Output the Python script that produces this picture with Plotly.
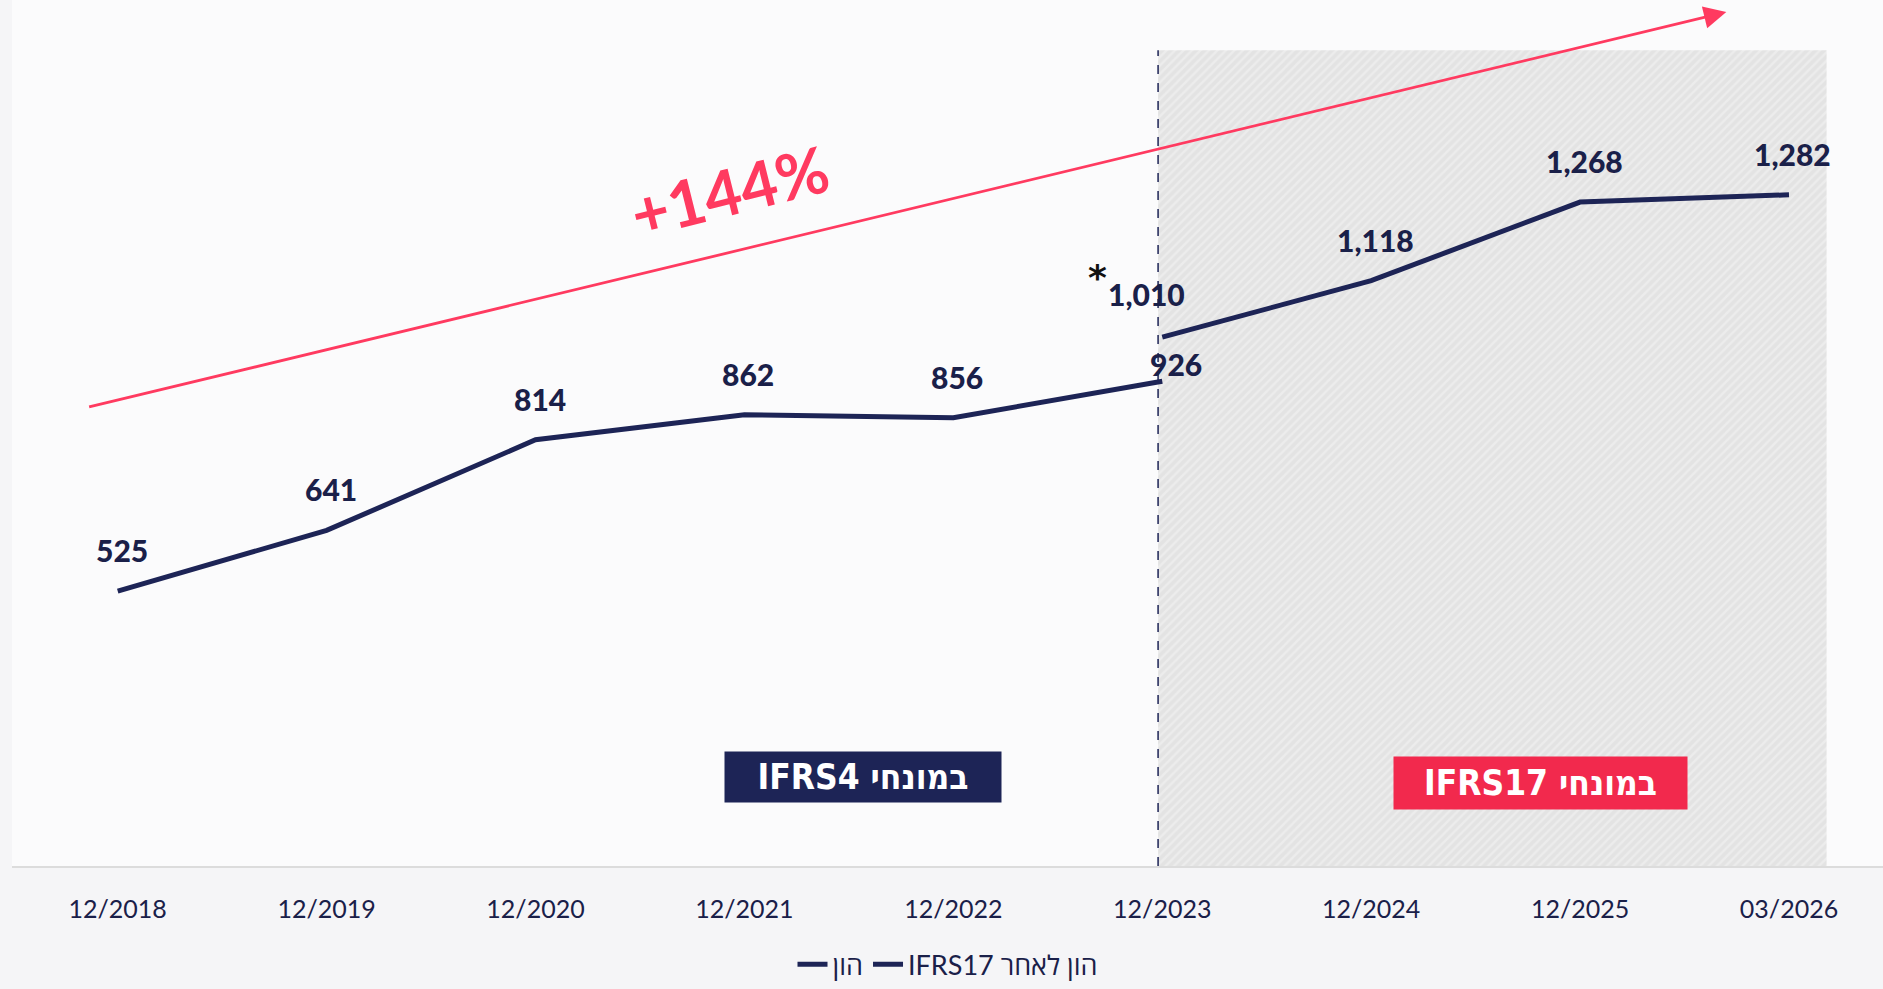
# equity chart - IFRS4 vs IFRS17
# plotly line chart with a hatched IFRS17 zone

import plotly.graph_objects as go

CATEGORIES = ["12/2018", "12/2019", "12/2020", "12/2021", "12/2022",
              "12/2023", "12/2024", "12/2025", "03/2026"]

# equity under IFRS4 (12/2018 .. 12/2023)
EQUITY_IFRS4 = [525, 641, 814, 862, 856, 926]
# equity after IFRS17 (12/2023 .. 03/2026)
EQUITY_IFRS17 = [1010, 1118, 1268, 1282]

GROWTH_LABEL = "+144%"

NAVY = "#1d2456"
TEXT_NAVY = "#1a2049"
RED = "#ff3a60"
BOX_RED = "#f2294d"

idx_all = list(range(len(CATEGORIES)))
x_ifrs4 = idx_all[:len(EQUITY_IFRS4)]
x_ifrs17 = idx_all[len(EQUITY_IFRS4) - 1:]

switch_x = CATEGORIES.index("12/2023") - 0.02
shade_end = len(CATEGORIES) - 1 + 0.18
shade_top = 1558
y_top = 1654

fig = go.Figure()

# hatched IFRS17 background zone
fig.add_trace(go.Scatter(
    x=[switch_x, shade_end, shade_end, switch_x, switch_x],
    y=[0, 0, shade_top, shade_top, 0],
    mode="none",
    fill="toself",
    fillcolor="#e6e6e6",
    fillpattern=dict(shape="/", bgcolor="#e3e3e3", fgcolor="#f5f5f5",
                     size=6, solidity=0.4),
    showlegend=False,
    hoverinfo="skip",
))

fig.add_trace(go.Scatter(
    x=x_ifrs4, y=EQUITY_IFRS4,
    mode="lines",
    name="הון",
    line=dict(color=NAVY, width=5),
))

fig.add_trace(go.Scatter(
    x=x_ifrs17, y=EQUITY_IFRS17,
    mode="lines",
    name="IFRS17 הון לאחר",
    line=dict(color=NAVY, width=5),
))

label_font = dict(family="Lato, 'Open Sans', sans-serif", size=30,
                  color=TEXT_NAVY, weight=900)

annotations = []
for i, (x, v) in enumerate(zip(x_ifrs4, EQUITY_IFRS4)):
    last = i == len(EQUITY_IFRS4) - 1
    annotations.append(dict(
        x=x, y=v, text=f"{v:,}", showarrow=False, font=label_font,
        xshift=14 if last else 4, yshift=17 if last else 41,
    ))
for i, (x, v) in enumerate(zip(x_ifrs17, EQUITY_IFRS17)):
    first = i == 0
    annotations.append(dict(
        x=x, y=v, text=f"{v:,}", showarrow=False, font=label_font,
        xshift=-16 if first else 4, yshift=43 if first else 41,
    ))

# asterisk next to the restated value
annotations.append(dict(
    x=x_ifrs17[0], y=EQUITY_IFRS17[0], text="*", showarrow=False,
    xshift=-65, yshift=60,
    font=dict(family="'DejaVu Sans', sans-serif", size=36, color="#111111", weight="bold"),
))

# growth arrow
annotations.append(dict(
    x=7.70, y=1631, ax=-0.144, ay=876,
    xref="x", yref="y", axref="x", ayref="y",
    text="", showarrow=True,
    arrowhead=2, arrowsize=1.6, arrowwidth=2.8, arrowcolor=RED,
))
annotations.append(dict(
    x=2.93, y=1290, text=f"<b>{GROWTH_LABEL}</b>", showarrow=False,
    textangle=-14,
    font=dict(family="Lato, sans-serif", size=64, color=RED, weight=900),
))

# regime boxes
box_font = dict(family="'DejaVu Sans Condensed', 'Liberation Sans', sans-serif",
                size=35, color="white", weight="bold")
annotations.append(dict(
    x=3.566, y=170, text="IFRS4 במונחי", showarrow=False,
    bgcolor=NAVY, width=276, height=50, borderpad=0,
    align="center", valign="middle", font=box_font,
))
annotations.append(dict(
    x=6.81, y=159, text="IFRS17 במונחי", showarrow=False,
    bgcolor=BOX_RED, width=293, height=52, borderpad=0,
    align="center", valign="middle", font=box_font,
))

fig.update_layout(
    annotations=annotations,
    shapes=[dict(
        type="line", xref="x", yref="y",
        x0=switch_x, x1=switch_x, y0=0, y1=shade_top,
        line=dict(color=NAVY, width=1.5, dash="dash"),
    )],
    width=1883, height=989,
    margin=dict(l=12, r=0, t=0, b=123, autoexpand=False),
    paper_bgcolor="#f5f5f7",
    plot_bgcolor="#fbfbfc",
    showlegend=True,
    legend=dict(
        orientation="h", x=0.5, xanchor="center", y=-0.114, yanchor="middle",
        font=dict(family="Lato, 'Open Sans', sans-serif", size=27, color=TEXT_NAVY),
        bgcolor="rgba(0,0,0,0)",
    ),
    xaxis=dict(
        range=[-0.506, 8.45],
        tickvals=idx_all, ticktext=CATEGORIES,
        showgrid=False, zeroline=False,
        showline=True, linecolor="#dcdcdc", linewidth=2,
        ticks="", ticklabelstandoff=20,
        tickfont=dict(family="Lato, 'Open Sans', sans-serif", size=25, color=TEXT_NAVY),
    ),
    yaxis=dict(
        range=[0, y_top], visible=False, showgrid=False, zeroline=False,
    ),
)

fig.write_html("out.html", config={"displayModeBar": False},
               post_script="document.body.style.margin='0';")
